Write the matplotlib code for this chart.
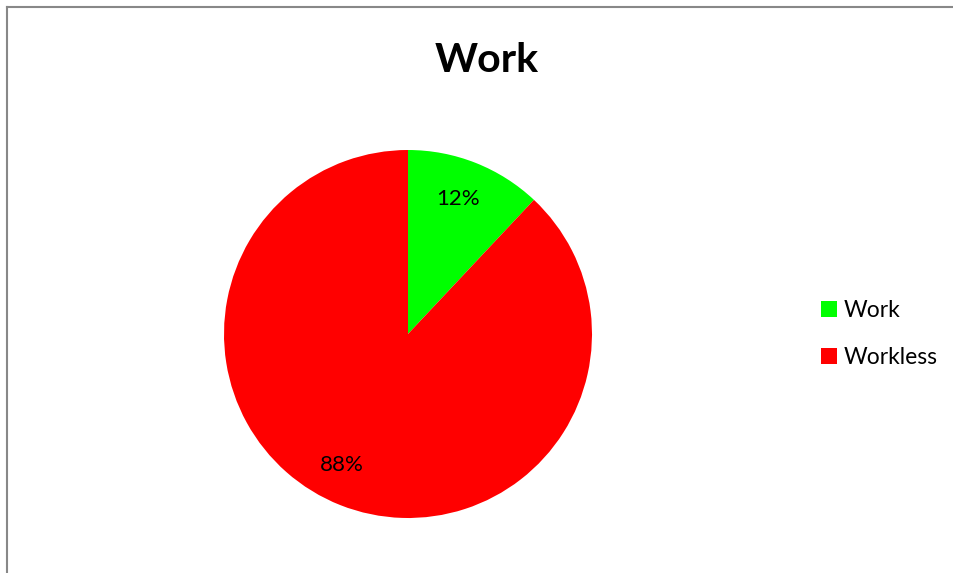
import matplotlib.pyplot as plt
from matplotlib.lines import Line2D
from matplotlib.patches import Patch

labels = ["Work", "Workless"]
values = [12, 88]
colors = ["#00ff00", "#ff0000"]

plt.rcParams['font.family'] = ['Lato', 'DejaVu Sans']

fig = plt.figure(figsize=(9.54, 5.73), dpi=100)

# chart border (top and left visible)
fig.add_artist(Line2D([7/954, 7/954], [0, 1 - 7/573], color="#888888", lw=1.5))
fig.add_artist(Line2D([7/954, 1], [1 - 7/573, 1 - 7/573], color="#888888", lw=1.5))

ax = fig.add_axes([(408 - 184) / 954, (239 - 184) / 573, 368 / 954, 368 / 573])
wedges, texts, autotexts = ax.pie(values, colors=colors, startangle=90, counterclock=False,
                                  autopct="%1.0f%%", pctdistance=0.79,
                                  textprops={"fontsize": 16, "color": "black"})
# excel places the big slice label a bit further left
x, y = autotexts[1].get_position()
autotexts[1].set_position((x - 0.07, y + 0.02))
x, y = autotexts[0].get_position()
autotexts[0].set_position((x - 0.02, y))
ax.set_xlim(-1, 1)
ax.set_ylim(-1, 1)
ax.set_aspect("equal")

fig.text(487 / 954, 1 - 60 / 573, "Work", ha="center", va="center",
         fontsize=29.5, fontweight="bold")

handles = [Patch(facecolor=c, edgecolor="none") for c in colors]
fig.legend(handles, labels, loc="center left", bbox_to_anchor=(800 / 954, 1 - 334 / 573),
           frameon=False, fontsize=16.5, handlelength=0.7, handleheight=0.7,
           handletextpad=0.3, labelspacing=1.15)

fig.savefig("out.png", dpi=100)
